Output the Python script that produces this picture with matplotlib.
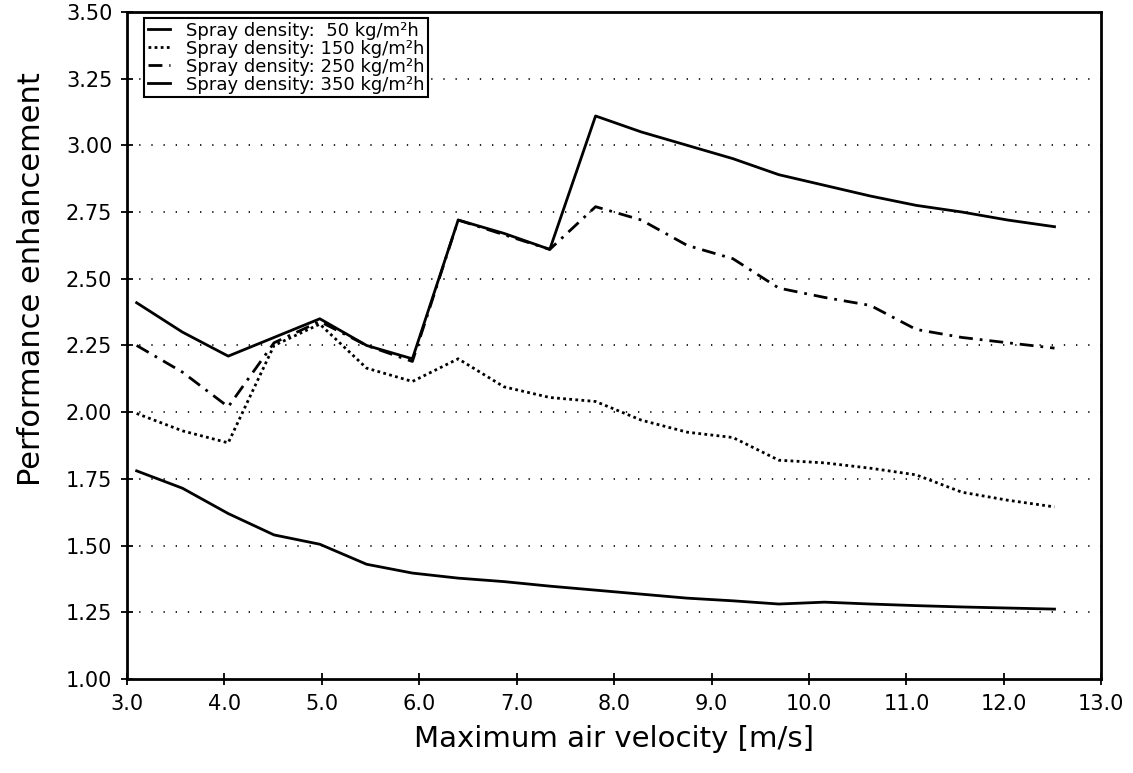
import matplotlib
matplotlib.use('Agg')
import matplotlib.pyplot as plt

# Maximum air velocity [m/s]
velocity = [3.10, 3.57, 4.04, 4.51, 4.98, 5.46, 5.93, 6.40, 6.87, 7.34, 7.81,
            8.28, 8.75, 9.22, 9.69, 10.16, 10.63, 11.10, 11.57, 12.04, 12.52]

# Performance enhancement per spray density
pe_50 = [1.78, 1.715, 1.62, 1.54, 1.505, 1.43, 1.397, 1.378, 1.365, 1.348, 1.333,
         1.318, 1.303, 1.293, 1.281, 1.288, 1.281, 1.275, 1.270, 1.266, 1.262]
pe_150 = [1.995, 1.93, 1.885, 2.25, 2.33, 2.165, 2.115, 2.20, 2.095, 2.055, 2.04,
          1.97, 1.925, 1.905, 1.82, 1.81, 1.79, 1.765, 1.70, 1.67, 1.645]
pe_250 = [2.25, 2.15, 2.02, 2.26, 2.34, 2.25, 2.19, 2.72, 2.665, 2.61, 2.77,
          2.72, 2.625, 2.575, 2.465, 2.43, 2.40, 2.31, 2.28, 2.26, 2.24]
pe_350 = [2.41, 2.30, 2.21, 2.28, 2.35, 2.25, 2.20, 2.72, 2.67, 2.61, 3.11,
          3.05, 3.00, 2.95, 2.89, 2.85, 2.81, 2.775, 2.75, 2.72, 2.695]

labels = ['Spray density:  50 kg/m²h', 'Spray density: 150 kg/m²h',
          'Spray density: 250 kg/m²h', 'Spray density: 350 kg/m²h']

x_ticks = [3.0, 4.0, 5.0, 6.0, 7.0, 8.0, 9.0, 10.0, 11.0, 12.0, 13.0]
y_ticks = [1.00, 1.25, 1.50, 1.75, 2.00, 2.25, 2.50, 2.75, 3.00, 3.25, 3.50]

fig = plt.figure(figsize=(11.33, 7.73), dpi=100)
ax = fig.add_axes([0.112, 0.1216, 0.86, 0.863])

# dotted horizontal grid lines
for y in y_ticks[1:-1]:
    ax.axhline(y, color='black', lw=1.2, linestyle=(0, (0.8, 6.5)), zorder=1)

ax.plot(velocity, pe_50, color='black', lw=2.0, linestyle='-', label=labels[0])
ax.plot(velocity, pe_150, color='black', lw=2.0, linestyle=(0, (1, 1.2)), label=labels[1])
ax.plot(velocity, pe_250, color='black', lw=2.0, linestyle=(0, (5, 2.5, 1, 2.5)), label=labels[2])
ax.plot(velocity, pe_350, color='black', lw=2.0, linestyle='-', label=labels[3])

ax.set_xlim(3.0, 13.0)
ax.set_ylim(1.0, 3.5)
ax.set_xticks(x_ticks)
ax.set_xticklabels(['%.1f' % v for v in x_ticks])
ax.set_yticks(y_ticks)
ax.set_yticklabels(['%.2f' % v for v in y_ticks])
ax.tick_params(direction='inout', length=9, width=1.3, labelsize=15, pad=6)

for s in ax.spines.values():
    s.set_linewidth(2.0)

ax.set_xlabel('Maximum air velocity [m/s]', fontsize=21, labelpad=8)
ax.set_ylabel('Performance enhancement', fontsize=22)
ax.yaxis.set_label_coords(-0.083, 0.6)

leg = ax.legend(loc='upper left', bbox_to_anchor=(0.018, 0.991), borderaxespad=0,
                fontsize=13, handlelength=1.2, handletextpad=0.9,
                labelspacing=0.0, borderpad=0.2, fancybox=False, framealpha=1)
leg.get_frame().set_edgecolor('black')
leg.get_frame().set_linewidth(1.5)

plt.savefig('out.png', dpi=100)
